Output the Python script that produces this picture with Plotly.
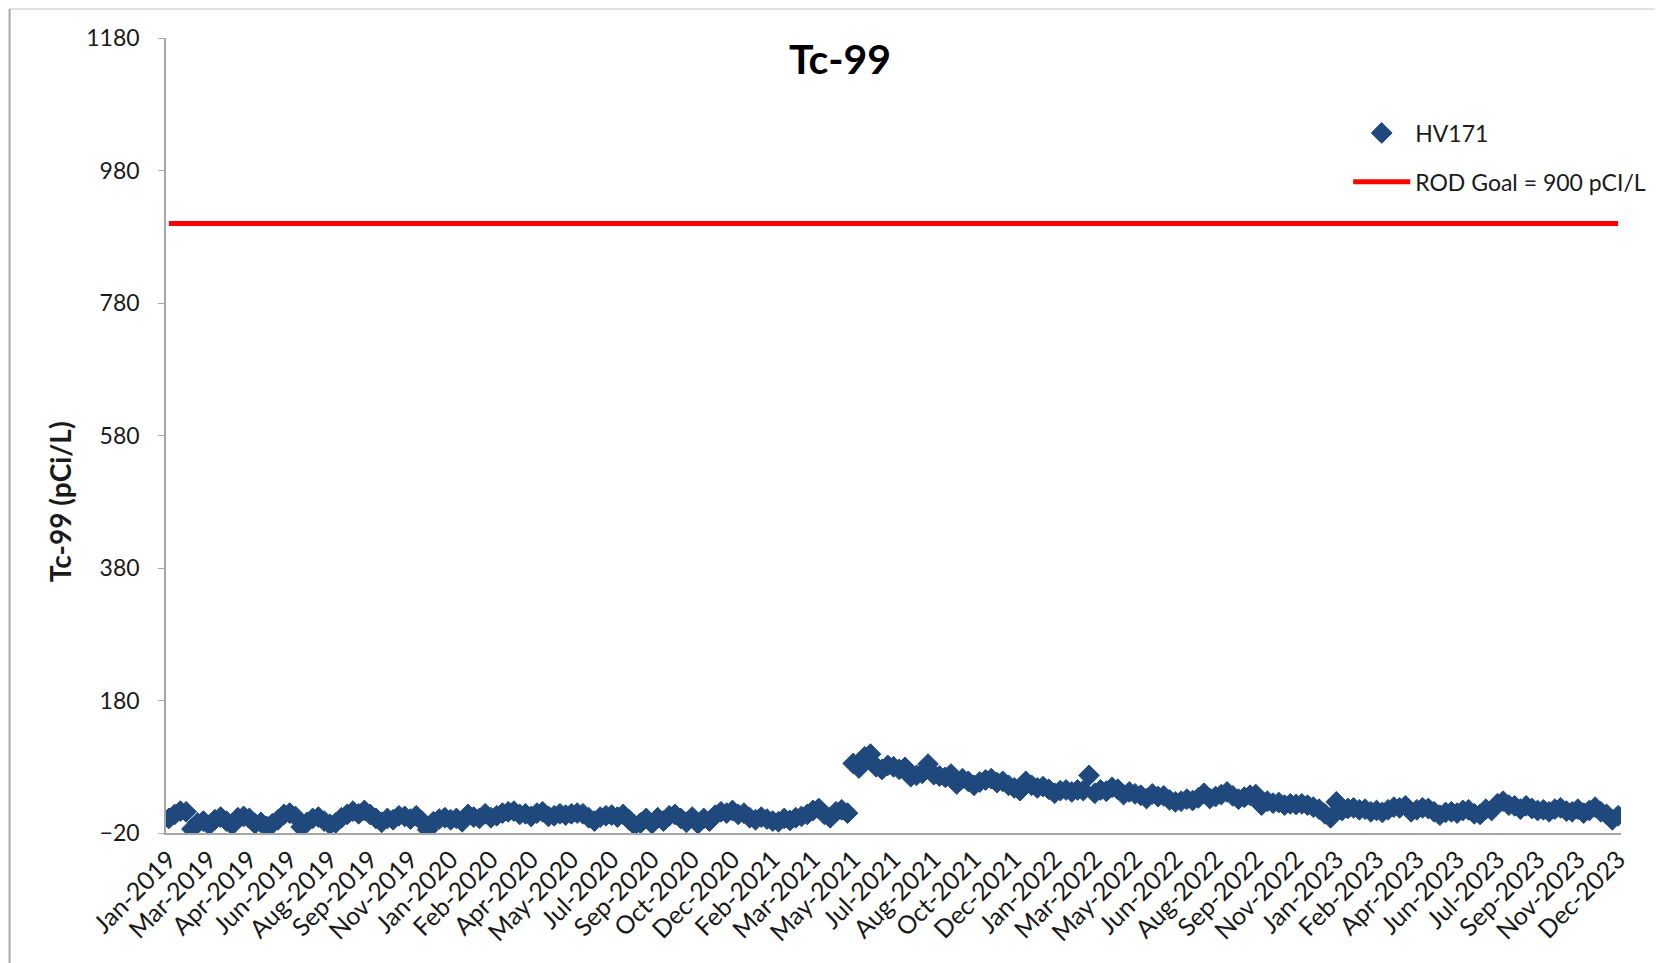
import plotly.graph_objects as go

# Tc-99 Messwerte HV171 (pCi/L), eine Probe pro Woche, Jan-2019 .. Dec-2023
hv171 = [
    2, 8, 13, 12, -14, -5, -2, -8, 0, 4,
    -2, -8, 3, 5, 2, -6, -4, -10, -6, 0,
    8, 10, 5, -11, -4, 2, 4, -2, -7, -5,
    3, 8, 13, 9, 14, 8, 2, -4, 2, 0,
    6, 5, 1, 6, -2, -15, -3, 1, 3, 0,
    2, -3, 8, 4, 2, 9, 3, 6, 10, 12,
    13, 8, 9, 5, 10, 12, 5, 6, 9, 7,
    9, 10, 9, 3, -2, 4, 6, 7, 4, 8,
    0, -8, -5, 2, -6, 3, -2, 6, 8, 2,
    -4, 4, -6, 2, -2, 7, 12, 10, 14, 8,
    10, 3, 0, 4, 1, -2, -3, 2, -1, 3,
    5, 8, 14, 17, 8, 3, 12, 15, 10, 85,
    78, 95, 99, 80, 76, 82, 80, 76, 79, 65,
    67, 70, 84, 68, 66, 64, 69, 54, 62, 58,
    52, 57, 60, 62, 56, 58, 52, 48, 44, 58,
    52, 48, 50, 46, 40, 44, 45, 42, 45, 44,
    67, 40, 45, 43, 49, 46, 38, 42, 39, 37,
    32, 39, 35, 36, 30, 27, 28, 31, 29, 33,
    40, 32, 35, 38, 42, 36, 31, 34, 37, 38,
    22, 28, 25, 26, 22, 24, 23, 24, 22, 19,
    16, 9, 3, 27, 14, 17, 18, 15, 16, 12,
    14, 11, 15, 19, 18, 21, 12, 15, 18, 17,
    12, 7, 11, 12, 10, 14, 15, 9, 8, 16,
    14, 24, 28, 22, 21, 16, 21, 17, 14, 15,
    12, 16, 18, 13, 12, 16, 10, 14, 19, 12,
    8, 0, 6,
]

# Achsenbeschriftung: jede 7. Probe
tick_labels = [
    "Jan-2019", "Mar-2019", "Apr-2019", "Jun-2019", "Aug-2019", "Sep-2019",
    "Nov-2019", "Jan-2020", "Feb-2020", "Apr-2020", "May-2020", "Jul-2020",
    "Sep-2020", "Oct-2020", "Dec-2020", "Feb-2021", "Mar-2021", "May-2021",
    "Jul-2021", "Aug-2021", "Oct-2021", "Dec-2021", "Jan-2022", "Mar-2022",
    "May-2022", "Jun-2022", "Aug-2022", "Sep-2022", "Nov-2022", "Jan-2023",
    "Feb-2023", "Apr-2023", "Jun-2023", "Jul-2023", "Sep-2023", "Nov-2023",
    "Dec-2023",
]
label_step = 7
rod_goal = 900

x = list(range(len(hv171)))
tick_pos = x[::label_step]

FONT = "Lato"
TXT = "#1a1a1a"
AXIS_GREY = "#a6a6a6"

fig = go.Figure()
fig.add_trace(go.Scatter(
    x=x, y=hv171, mode="markers", name="HV171",
    marker=dict(symbol="diamond", size=16, color="#1f497d",
                line=dict(color="#1f497d", width=1)),
    legend="legend", showlegend=True,
))
fig.add_trace(go.Scatter(
    x=[x[0], x[-1]], y=[rod_goal, rod_goal], mode="lines",
    name="ROD Goal = 900 pCI/L",
    line=dict(color="#ff0000", width=5),
    legend="legend2", showlegend=True,
))

# Rahmen um die Grafik (wie Excel-Diagrammbereich)
fig.add_shape(type="line", xref="paper", yref="paper",
              x0=-0.1075, x1=1.05, y0=1.0365, y1=1.0365,
              line=dict(color="#d9d9d9", width=1.5))
fig.add_shape(type="line", xref="paper", yref="paper",
              x0=-0.1075, x1=-0.1075, y0=1.0365, y1=-0.2,
              line=dict(color="#a6a6a6", width=2))

# Y-Achsentitel als Annotation, damit die Position passt
fig.add_annotation(text="<b>Tc-99 (pCi/L)</b>", textangle=-90,
                   xref="paper", yref="paper", x=-0.0723, y=0.417,
                   xanchor="center", yanchor="middle", showarrow=False,
                   font=dict(family=FONT, size=28, color=TXT))

# Seite hat 8px Body-Rand -> Figur etwas kleiner, Ränder angepasst
fig.update_layout(
    width=1655, height=955,
    showlegend=True,
    template="plotly_white",
    plot_bgcolor="white", paper_bgcolor="white",
    font=dict(family=FONT, color=TXT),
    title=dict(text="<b>Tc-99</b>", x=0.5027, xanchor="center",
               y=0.9456, yanchor="middle",
               font=dict(family=FONT, size=41, color="#000000")),
    margin=dict(l=158, r=40, t=30, b=130),
    xaxis=dict(range=[-0.5, 252.5], tickmode="array", tickvals=tick_pos,
               ticktext=tick_labels, tickangle=-45, showgrid=False,
               zeroline=False, showline=True, linecolor=AXIS_GREY, linewidth=2,
               ticks="", tickfont=dict(family=FONT, size=25, color=TXT)),
    yaxis=dict(range=[-20, 1180], tick0=-20, dtick=200, showgrid=False,
               zeroline=False, showline=True, linecolor=AXIS_GREY, linewidth=1.5,
               ticks="outside", ticklen=6, tickcolor=AXIS_GREY,
               ticklabelstandoff=14,
               tickfont=dict(family=FONT, size=23, color=TXT)),
    legend=dict(x=0.8125, y=0.8805, xanchor="left", yanchor="middle",
                bgcolor="rgba(0,0,0,0)", itemwidth=57,
                font=dict(family=FONT, size=23, color=TXT)),
    legend2=dict(x=0.8125, y=0.819, xanchor="left", yanchor="middle",
                 bgcolor="rgba(0,0,0,0)", itemwidth=57,
                 font=dict(family=FONT, size=23, color=TXT)),
)

fig.write_html("out.html")
